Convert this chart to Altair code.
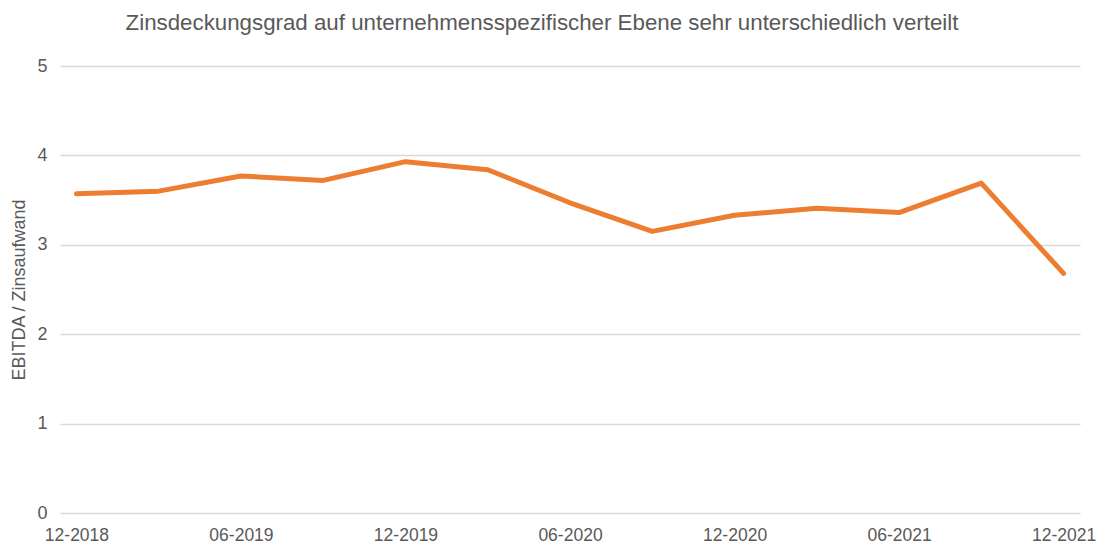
import altair as alt
import pandas as pd

periods = ["12-2018", "03-2019", "06-2019", "09-2019", "12-2019", "03-2020", "06-2020",
           "09-2020", "12-2020", "03-2021", "06-2021", "09-2021", "12-2021"]
values = [3.57, 3.60, 3.77, 3.72, 3.93, 3.84, 3.47, 3.15, 3.33, 3.41, 3.36, 3.69, 2.68]
tick_labels = ["12-2018", "06-2019", "12-2019", "06-2020", "12-2020", "06-2021", "12-2021"]

df = pd.DataFrame({"period": periods, "value": values})

FONT = "Liberation Sans"
GREY = "#595959"

chart = alt.Chart(df).mark_line(color="#ED7D31", strokeWidth=5, strokeCap="round", strokeJoin="round").encode(
    x=alt.X("period:O", sort=periods,
            scale=alt.Scale(type="point", padding=0.2),
            axis=alt.Axis(values=tick_labels, title=None, labelAngle=0, domain=False, ticks=False,
                          grid=False, labelPadding=13, labelFontSize=17.5, labelColor=GREY,
                          labelFont=FONT)),
    y=alt.Y("value:Q", scale=alt.Scale(domain=[0, 5], nice=False),
            axis=alt.Axis(values=[0, 1, 2, 3, 4, 5], title="EBITDA / Zinsaufwand", domain=False,
                          ticks=False, labelPadding=13, labelFontSize=18, labelColor=GREY,
                          labelFont=FONT, titleFont=FONT, titleFontSize=18, titleColor=GREY,
                          titleFontWeight="normal", titlePadding=8,
                          gridColor="#d9d9d9", gridWidth=1.5)),
).properties(
    width=1020,
    height=447,
    autosize=alt.AutoSizeParams(type="none"),
    padding={"left": 52, "top": 58, "right": 17, "bottom": 30},
    title=alt.TitleParams("Zinsdeckungsgrad auf unternehmensspezifischer Ebene sehr unterschiedlich verteilt",
                          font=FONT, fontSize=22.3, color=GREY, fontWeight="normal",
                          anchor="middle", frame="group", offset=23, dx=-28),
).configure_view(stroke=None)

chart.save("out.html", embed_options={"renderer": "svg", "actions": False})
